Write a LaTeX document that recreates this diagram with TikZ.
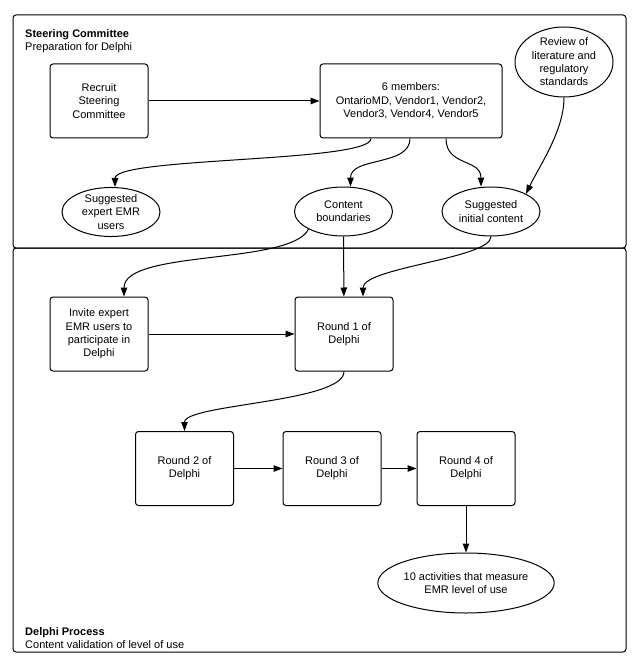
\documentclass[tikz,border=0pt]{standalone}
\usepackage{fontspec}
\setmainfont{Liberation Sans}
\usepackage{tikz}
\usetikzlibrary{positioning}
\usetikzlibrary{arrows.meta,shapes}
\usetikzlibrary{shapes.geometric}
\tikzstyle{process}=[rectangle,draw,rounded corners=3pt,line width=1pt,minimum width=98pt,minimum height=74pt,inner sep=0pt,align=center]
\tikzstyle{outcome}=[ellipse,draw,line width=1pt,minimum width=98pt,minimum height=49pt,inner sep=0pt,align=center]
\tikzstyle{flow}=[-{Triangle[length=9pt,width=6.5pt]},line width=1pt]
\tikzstyle{panel}=[draw,rounded corners=3pt,line width=1pt]
\tikzstyle{heading}=[align=left,inner sep=0pt]

\begin{document}
\begin{tikzpicture}[x=1pt,y=-1pt,font=\fontsize{11}{13.3}\selectfont]
\useasboundingbox (0,0) rectangle (634,663);

%panels
\draw[panel] (13,15) rectangle (626,248);
\draw[panel] (13,248) rectangle (626,652);
\node[heading,anchor=north west] (steertitle) at (25,29.5) {\textbf{Steering Committee}\\Preparation for Delphi};
\node[heading,anchor=south west] (delphititle) at (25,649) {\textbf{Delphi Process}\\Content validation of level of use};

%steering committee
\node[process] (recruit) at (99,101) {Recruit\\Steering\\Committee};
\node[process,minimum width=182pt] (members) at (411,101) {6 members:\\OntarioMD, Vendor1, Vendor2,\\Vendor3, Vendor4, Vendor5};
\node[outcome,minimum height=70pt] (review) at (564,62) {Review of\\literature and\\regulatory\\standards};
\foreach \pos/\name/\txt in {{(111,212)/expert/Suggested\\expert EMR\\users}, {(343.5,211.5)/bounds/Content\\boundaries}, {(491,211.5)/initial/Suggested\\initial content}}
    \node[outcome] (\name) at \pos {\txt};

%delphi process
\node[process] (invite) at (99,334) {Invite expert\\EMR users to\\participate in\\Delphi};
\foreach \pos/\name/\num in {{(344,334)/round1/1}, {(184.5,468.5)/round2/2}, {(332,468.5)/round3/3}, {(466,468.5)/round4/4}}
    \node[process] (\name) at \pos {Round \num\ of\\Delphi};
\node[outcome,minimum width=172pt,minimum height=60pt] (activities) at (466,583) {10 activities that measure\\EMR level of use};

%straight flows
\foreach \source/\dest in {recruit/members, bounds/round1, invite/round1, round2/round3, round3/round4, round4/activities}
    \draw[flow] (\source) -- (\dest);

%curved flows
\draw[flow] ([xshift=-40pt]members.south) .. controls +(0,24) and +(0,-30) .. ([xshift=4pt]expert.north);
\draw[flow] ([xshift=-1pt]members.south) .. controls +(0,28) and +(0,-30) .. ([xshift=7pt]bounds.north);
\draw[flow] ([xshift=35pt]members.south) .. controls +(0,28) and +(0,-28) .. ([xshift=-10pt]initial.north);
\draw[flow] (review.south) .. controls +(0,33) and +(14,-29) .. (initial.north east);
\draw[flow] (bounds.south west) .. controls +(-18,36) and +(0,-47) .. ([xshift=25pt]invite.north);
\draw[flow] (initial.south) .. controls +(0,22) and +(0,-29) .. ([xshift=19pt]round1.north);
\draw[flow] (round1.south) .. controls +(0,31) and +(0,-27) .. (round2.north);

\end{tikzpicture}
\end{document}
